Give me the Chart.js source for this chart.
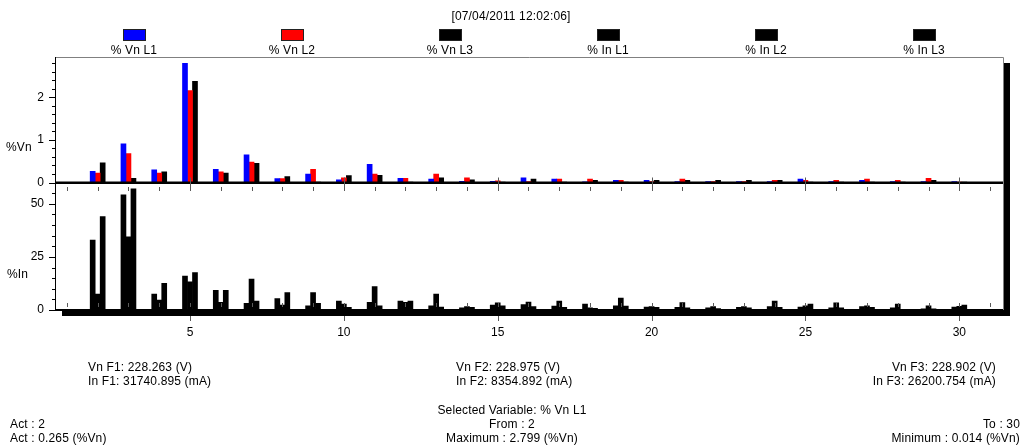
<!DOCTYPE html>
<html>
<head>
<meta charset="utf-8">
<script src="https://cdn.jsdelivr.net/npm/chart.js@4.4.1/dist/chart.umd.min.js"></script>
<style>
  body { margin: 0; background: #fff; }
  #wrap { position: relative; width: 1023px; height: 447px; overflow: hidden;
          font-family: "Liberation Sans", Arial, sans-serif; font-size: 12px; color: #000; }
  #wrap canvas { position: absolute; left: 0; top: 0; }
  .t { position: absolute; white-space: nowrap; line-height: 14px; letter-spacing: 0.15px; }
  .c { text-align: center; }
  .r { text-align: right; }
  .box { position: absolute; width: 21px; height: 10px; border: 1px solid #222; }
</style>
</head>
<body>
<div id="wrap">
  <canvas id="harmonics-chart" width="1023" height="447"></canvas>
  <div class="t c" style="left:311px;width:400px;top:9px;">[07/04/2011 12:02:06]</div>
  <div id="legend"></div>
  <div class="t" style="left:6px;top:140px;">%Vn</div>
  <div class="t" style="left:7px;top:267px;">%In</div>

  <div class="t" style="left:88px;top:360px;">Vn F1: 228.263 (V)<br>In F1: 31740.895 (mA)</div>
  <div class="t" style="left:456px;top:360px;">Vn F2: 228.975 (V)<br>In F2: 8354.892 (mA)</div>
  <div class="t r" style="right:27px;top:360px;">Vn F3: 228.902 (V)<br>In F3: 26200.754 (mA)</div>

  <div class="t" style="left:10px;top:417px;">Act : 2<br>Act : 0.265 (%Vn)</div>
  <div class="t c" style="left:362px;width:300px;top:403px;">Selected Variable: % Vn L1<br>From : 2<br>Maximum : 2.799 (%Vn)</div>
  <div class="t r" style="right:3px;top:417px;">To : 30<br>Minimum : 0.014 (%Vn)</div>
</div>

<script>
// Harmonic orders shown on the x axis
const harmonics = [2, 3, 4, 5, 6, 7, 8, 9, 10, 11, 12, 13, 14, 15, 16,
    17, 18, 19, 20, 21, 22, 23, 24, 25, 26, 27, 28, 29, 30];

// Voltage harmonics (%Vn)
const vnL1 = [0.265, 0.91, 0.30, 2.799, 0.31, 0.65, 0.09, 0.20, 0.06, 0.43, 0.10, 0.08, 0.03, 0.03, 0.11,
    0.08, 0.014, 0.05, 0.05, 0.02, 0.02, 0.02, 0.02, 0.08, 0.02, 0.05, 0.02, 0.02, 0.02];
const vnL2 = [0.22, 0.68, 0.22, 2.16, 0.25, 0.48, 0.09, 0.31, 0.11, 0.20, 0.10, 0.20, 0.11, 0.04, 0.02,
    0.08, 0.08, 0.05, 0.02, 0.08, 0.02, 0.02, 0.05, 0.05, 0.05, 0.08, 0.05, 0.10, 0.01];
const vnL3 = [0.46, 0.10, 0.25, 2.38, 0.22, 0.45, 0.14, 0.01, 0.16, 0.17, 0.01, 0.11, 0.06, 0.01, 0.08,
    0.01, 0.05, 0.01, 0.05, 0.05, 0.05, 0.05, 0.05, 0.01, 0.01, 0.01, 0.01, 0.05, 0.01];

// Current harmonics (%In)
const inL1 = [32.9, 54.2, 7.5, 16.0, 9.3, 3.1, 5.4, 2.0, 4.2, 3.6, 4.2, 2.0, 1.0, 2.3, 2.6,
    1.9, 2.8, 2.0, 1.4, 1.2, 1.0, 1.2, 1.6, 1.4, 1.0, 1.6, 1.0, 0.5, 1.4];
const inL2 = [7.5, 34.4, 4.7, 13.2, 3.6, 14.5, 2.3, 8.2, 2.8, 11.0, 3.6, 7.5, 1.6, 3.4, 3.7,
    4.2, 1.0, 5.6, 1.6, 3.5, 1.6, 1.6, 4.2, 2.0, 3.4, 2.0, 2.8, 2.0, 1.7];
const inL3 = [44.0, 57.0, 12.5, 17.6, 9.3, 4.2, 8.2, 3.1, 1.2, 2.0, 4.2, 1.4, 1.2, 2.0, 1.6,
    1.2, 0.8, 1.9, 1.2, 1.0, 0.7, 1.0, 1.2, 2.8, 1.0, 1.2, 0.3, 0.5, 2.3];

// Tick labels
const harmonicLabels = [5, 10, 15, 20, 25, 30];
const vnTicks = [0, 1, 2];
const inTicks = [0, 25, 50];

const seriesNames = ['% Vn L1', '% Vn L2', '% Vn L3', '% In L1', '% In L2', '% In L3'];
const seriesColors = ['#0000ff', '#ff0000', '#000000', '#000000', '#000000', '#000000'];

const tickColor = '#5a5a5a';
const frameColor = '#808080';

function points(values) {
    return harmonics.map((h, i) => ({ x: h, y: values[i] }));
}

// Legend: coloured box above its label, spread over the plot width
function buildLegend() {
    const legend = document.getElementById('legend');
    const left = 55, width = 948;
    seriesNames.forEach((name, i) => {
        const cx = left + width / seriesNames.length * (i + 0.5);
        const box = document.createElement('div');
        box.className = 'box';
        box.style.left = (cx - 11.5) + 'px';
        box.style.top = '29px';
        box.style.background = seriesColors[i];
        legend.appendChild(box);
        const label = document.createElement('div');
        label.className = 't c';
        label.style.left = (cx - 50) + 'px';
        label.style.width = '100px';
        label.style.top = '43px';
        label.textContent = name;
        legend.appendChild(label);
    });
}

// Frame with drop shadow, baselines and tick marks
const framePlugin = {
    id: 'frame',
    beforeDatasetsDraw(chart) {
        const { ctx, chartArea: a } = chart;
        ctx.save();
        ctx.fillStyle = '#000';
        ctx.fillRect(a.left + 7, a.top + 6, a.right - a.left, a.bottom - a.top);
        ctx.fillStyle = '#fff';
        ctx.fillRect(a.left, a.top, a.right - a.left, a.bottom - a.top);
        ctx.restore();
    },
    afterDatasetsDraw(chart) {
        const { ctx, chartArea: a, scales } = chart;
        const x = scales.x, y1 = scales.y1, y2 = scales.y2;
        const base1 = y1.getPixelForValue(0);
        const base2 = y2.getPixelForValue(0);
        ctx.save();

        // frame
        ctx.strokeStyle = frameColor;
        ctx.lineWidth = 1;
        ctx.beginPath();
        ctx.moveTo(a.left, a.top + 0.5);
        ctx.lineTo(a.right + 0.5, a.top + 0.5);
        ctx.lineTo(a.right + 0.5, a.bottom);
        ctx.stroke();

        ctx.strokeStyle = '#000';
        ctx.beginPath();
        ctx.moveTo(a.left + 0.5, a.top);
        ctx.lineTo(a.left + 0.5, a.bottom);
        ctx.stroke();

        // baselines
        ctx.fillStyle = '#000';
        ctx.fillRect(a.left, Math.round(base1) - 1.5, a.right - a.left, 2.5);
        ctx.fillRect(a.left, Math.round(base2) - 1, a.right - a.left, 2);

        // x ticks
        ctx.strokeStyle = tickColor;
        ctx.beginPath();
        for (let h = 1; h <= 31; h++) {
            const px = Math.round(x.getPixelForValue(h)) + 0.5;
            if (h % 5 === 0) {
                ctx.moveTo(px, base1 - 5);
                ctx.lineTo(px, base1 + 8.5);
                ctx.moveTo(px, a.bottom + 6);
                ctx.lineTo(px, a.bottom + 11);
            } else {
                ctx.moveTo(px, base1 + 4.5);
                ctx.lineTo(px, base1 + 8.5);
            }
            ctx.moveTo(px, base2 - 7);
            ctx.lineTo(px, base2 - 3);
        }
        ctx.stroke();

        // y ticks
        ctx.strokeStyle = '#000';
        ctx.beginPath();
        for (let v = 0; v <= 2.81; v += 0.2) {
            const py = Math.round(y1.getPixelForValue(v)) + 0.5;
            const major = Math.abs(v - Math.round(v)) < 0.01;
            ctx.moveTo(a.left - (major ? 6 : 3), py);
            ctx.lineTo(a.left, py);
        }
        for (let v = 0; v <= 55; v += 5) {
            const py = Math.round(y2.getPixelForValue(v)) + 0.5;
            const major = v % 25 === 0;
            ctx.moveTo(a.left - (major ? 6 : 3), py);
            ctx.lineTo(a.left, py);
        }
        ctx.stroke();
        ctx.restore();
    }
};

const tickFont = { family: '"Liberation Sans", Arial, sans-serif', size: 12 };

function createHarmonicsChart(ctx) {
    const sets = [vnL1, vnL2, vnL3, inL1, inL2, inL3];
    return new Chart(ctx, {
        type: 'bar',
        data: {
            datasets: sets.map((values, i) => ({
                label: seriesNames[i],
                data: points(values),
                yAxisID: i < 3 ? 'y1' : 'y2',
                stack: 'L' + (i % 3 + 1),
                backgroundColor: seriesColors[i],
                borderWidth: 0,
                barThickness: 5
            }))
        },
        options: {
            responsive: false,
            animation: false,
            devicePixelRatio: 1,
            layout: { padding: { left: 0, top: 57, right: 20, bottom: 0 } },
            plugins: {
                legend: { display: false },
                tooltip: { enabled: false }
            },
            scales: {
                x: {
                    type: 'linear',
                    min: 0.613,
                    max: 31.42,
                    offset: false,
                    grid: { display: false, drawTicks: false, offset: false },
                    border: { display: false },
                    afterBuildTicks: (scale) => {
                        scale.ticks = harmonicLabels.map(v => ({ value: v }));
                    },
                    afterFit: (scale) => { scale.height = 447 - 310; },
                    ticks: {
                        autoSkip: false,
                        maxRotation: 0,
                        padding: 15,
                        color: '#000',
                        font: tickFont
                    }
                },
                // left axes are stacked closest-first, so the lower panel is listed first
                y2: {
                    type: 'linear',
                    position: 'left',
                    stack: 'panels',
                    stackWeight: 127.5,
                    min: 0,
                    max: 60,
                    grid: { display: false, drawTicks: false },
                    border: { display: false },
                    afterBuildTicks: (scale) => {
                        scale.ticks = inTicks.map(v => ({ value: v }));
                    },
                    afterFit: (scale) => { scale.width = 55; },
                    ticks: { padding: 11, color: '#000', font: tickFont }
                },
                y1: {
                    type: 'linear',
                    position: 'left',
                    stack: 'panels',
                    stackWeight: 125.5,
                    min: 0,
                    max: 2.95,
                    grid: { display: false, drawTicks: false },
                    border: { display: false },
                    afterBuildTicks: (scale) => {
                        scale.ticks = vnTicks.map(v => ({ value: v }));
                    },
                    afterFit: (scale) => { scale.width = 55; },
                    ticks: { padding: 11, color: '#000', font: tickFont }
                }
            }
        },
        plugins: [framePlugin]
    });
}

buildLegend();
createHarmonicsChart(document.getElementById('harmonics-chart'));
</script>
</body>
</html>
